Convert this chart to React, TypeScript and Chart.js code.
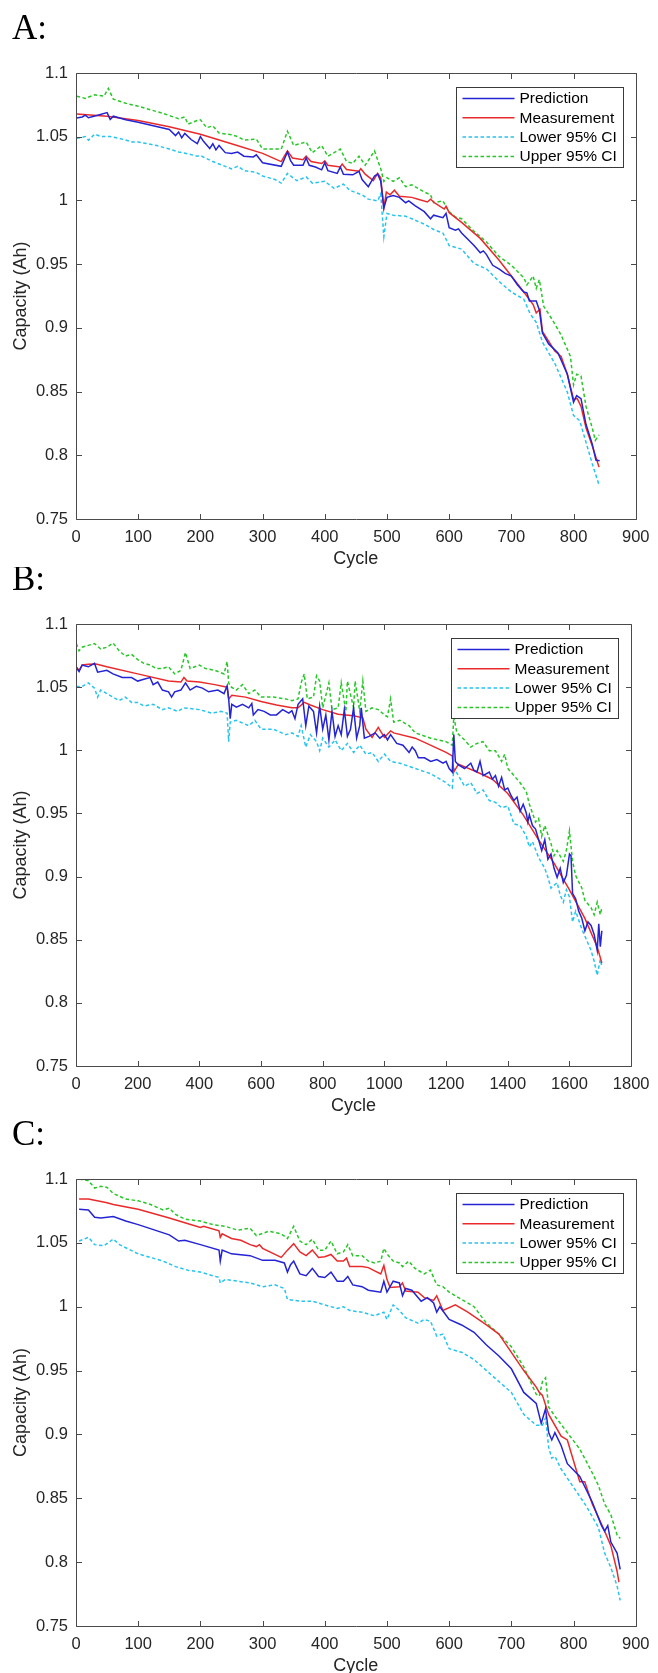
import React, { useEffect, useRef } from 'react';
import { Chart, registerables } from 'chart.js';

Chart.register(...registerables);

// ---------- tick labels ----------
const Y_TICKS = [0.75, 0.8, 0.85, 0.9, 0.95, 1, 1.05, 1.1];
const X_TICKS_A = [0, 100, 200, 300, 400, 500, 600, 700, 800, 900];
const X_TICKS_B = [0, 200, 400, 600, 800, 1000, 1200, 1400, 1600, 1800];
const X_TICKS_C = [0, 100, 200, 300, 400, 500, 600, 700, 800, 900];

const SERIES_LABELS = ['Prediction', 'Measurement', 'Lower 95% CI', 'Upper 95% CI'];

// ---------- Panel A: [cycle, capacity] ----------
const A_PRED: [number, number][] = [
  [1, 1.0647], [10, 1.0655], [15, 1.0669], [20, 1.0649], [35, 1.0669], [50, 1.0689], [55, 1.0635], [60, 1.0661],
  [80, 1.0633], [100, 1.0613], [150, 1.0557], [160, 1.0509], [165, 1.0537], [170, 1.0492], [175, 1.0526],
  [185, 1.0478], [195, 1.0445], [200, 1.0501], [205, 1.0464], [215, 1.0408], [220, 1.0445], [225, 1.0397],
  [230, 1.0431], [240, 1.0375], [250, 1.0369], [260, 1.038], [270, 1.0347], [285, 1.0341], [290, 1.0358],
  [300, 1.0296], [330, 1.0268], [335, 1.0324], [340, 1.038], [345, 1.0313], [350, 1.0276], [365, 1.0276],
  [370, 1.0333], [375, 1.0276], [385, 1.0262], [395, 1.024], [400, 1.0296], [405, 1.0234], [420, 1.0212],
  [425, 1.0262], [430, 1.0206], [445, 1.0201], [455, 1.0229], [460, 1.0164], [470, 1.0108], [480, 1.0192],
  [485, 1.0206], [490, 1.015], [495, 0.994], [500, 1.0024], [510, 1.0038], [520, 1.0024], [530, 0.9982],
  [535, 0.9996], [545, 0.996], [560, 0.9912], [570, 0.9856], [575, 0.9884], [590, 0.9864], [595, 0.9898],
  [600, 0.9786], [610, 0.9766], [615, 0.9777], [620, 0.9744], [640, 0.9646], [650, 0.959], [655, 0.9604],
  [660, 0.9575], [670, 0.9491], [680, 0.9463], [690, 0.9427], [700, 0.9407], [710, 0.9337], [720, 0.9281],
  [725, 0.9275], [729, 0.9211], [740, 0.9211], [745, 0.9141], [750, 0.8959], [760, 0.8874], [775, 0.8804],
  [790, 0.8636], [800, 0.8417], [805, 0.8468], [812, 0.8445], [820, 0.8243], [830, 0.8089], [836, 0.7963],
  [842, 0.7957],
];
const A_MEAS: [number, number][] = [
  [1, 1.0678], [50, 1.0661], [100, 1.0627], [150, 1.0579], [200, 1.052], [250, 1.0445], [300, 1.0369],
  [330, 1.0305], [335, 1.0347], [340, 1.0389], [348, 1.0333], [365, 1.0319], [370, 1.0347], [378, 1.0305],
  [395, 1.029], [400, 1.031], [405, 1.0276], [425, 1.0262], [428, 1.0285], [435, 1.0243], [455, 1.0229],
  [458, 1.0248], [465, 1.0206], [478, 1.0156], [485, 1.0212], [490, 1.0178], [495, 0.994], [499, 1.0066],
  [505, 1.0044], [512, 1.008], [520, 1.0033], [540, 1.0024], [550, 1.001], [565, 0.9988], [570, 1.001],
  [578, 0.9976], [592, 0.9932], [595, 0.9954], [600, 0.9904], [620, 0.9828], [650, 0.9702], [680, 0.9533],
  [700, 0.9407], [720, 0.9281], [735, 0.9183], [740, 0.9118], [746, 0.9146], [750, 0.8972], [770, 0.8818],
  [780, 0.8776], [790, 0.8636], [800, 0.844], [806, 0.8445], [812, 0.8384], [820, 0.8215], [830, 0.8075],
  [841, 0.7907],
];
const A_LOW: [number, number][] = [
  [1, 1.0487], [15, 1.0501], [20, 1.0473], [30, 1.052], [40, 1.0501], [55, 1.0501], [70, 1.0487], [90, 1.0459],
  [100, 1.0459], [115, 1.0445], [130, 1.0431], [150, 1.0403], [165, 1.038], [180, 1.0366], [195, 1.0347],
  [200, 1.0352], [220, 1.0305], [250, 1.0248], [260, 1.0268], [270, 1.0234], [290, 1.022], [300, 1.0192],
  [320, 1.0164], [330, 1.0136], [340, 1.0212], [345, 1.0192], [355, 1.0156], [370, 1.0184], [380, 1.0136],
  [400, 1.015], [415, 1.0094], [430, 1.0128], [440, 1.008], [455, 1.0052], [460, 1.0044], [470, 1.001],
  [485, 0.9996], [490, 1.0052], [495, 0.9716], [500, 0.9898], [510, 0.9884], [530, 0.9876], [540, 0.9856],
  [560, 0.9814], [575, 0.9772], [590, 0.9744], [600, 0.9646], [620, 0.9618], [640, 0.9505], [660, 0.9463],
  [680, 0.9365], [700, 0.9281], [720, 0.9225], [730, 0.9113], [740, 0.9043], [750, 0.8888], [770, 0.872],
  [790, 0.8496], [800, 0.8313], [810, 0.8271], [820, 0.8103], [830, 0.7935], [841, 0.7767],
];
const A_UP: [number, number][] = [
  [1, 1.0818], [15, 1.0801], [30, 1.0829], [45, 1.0818], [52, 1.0879], [60, 1.0795], [80, 1.0762], [100, 1.0739],
  [120, 1.0711], [140, 1.0683], [165, 1.0641], [175, 1.0655], [180, 1.0599], [195, 1.0627], [200, 1.0633],
  [210, 1.0571], [220, 1.0585], [230, 1.0529], [250, 1.0515], [260, 1.0501], [270, 1.0473], [290, 1.0481],
  [300, 1.0403], [330, 1.0403], [340, 1.0543], [350, 1.0431], [370, 1.0459], [380, 1.0375], [395, 1.0431],
  [405, 1.0347], [425, 1.0403], [435, 1.0305], [445, 1.0291], [455, 1.0347], [465, 1.0276], [480, 1.0389],
  [490, 1.0248], [495, 1.015], [500, 1.0178], [510, 1.015], [520, 1.0178], [530, 1.0108], [540, 1.0122],
  [560, 1.0066], [570, 1.0044], [575, 0.9982], [590, 0.9996], [600, 0.9912], [610, 0.987], [620, 0.9856],
  [640, 0.9758], [660, 0.9674], [680, 0.9561], [700, 0.9491], [720, 0.9393], [725, 0.9337], [735, 0.9407],
  [740, 0.9309], [745, 0.9379], [752, 0.9169], [765, 0.9071], [780, 0.8944], [795, 0.8776], [800, 0.8552],
  [805, 0.8636], [812, 0.8622], [820, 0.8384], [830, 0.8215], [835, 0.8117], [841, 0.8159],
];

// ---------- Panel B ----------
const B_PRED: [number, number][] = [
  [1, 1.0653], [10, 1.0624], [20, 1.0675], [40, 1.0661], [60, 1.0689], [70, 1.0619], [100, 1.0633], [120, 1.0605],
  [150, 1.0576], [180, 1.0576], [200, 1.0548], [220, 1.0562], [240, 1.0576], [250, 1.052], [265, 1.054],
  [280, 1.0477], [300, 1.0463], [310, 1.0421], [320, 1.0463], [340, 1.0477], [355, 1.0534], [370, 1.0477],
  [390, 1.0506], [410, 1.0492], [430, 1.0463], [460, 1.0477], [480, 1.0449], [490, 1.0511], [495, 1.0407],
  [500, 1.0251], [505, 1.0364], [520, 1.0342], [540, 1.0364], [560, 1.0336], [570, 1.037], [575, 1.028],
  [590, 1.0322], [610, 1.0308], [630, 1.028], [650, 1.028], [670, 1.0322], [690, 1.0294], [700, 1.0314],
  [710, 1.0251], [720, 1.0364], [735, 1.0407], [745, 1.0195], [755, 1.035], [770, 1.0308], [780, 1.0138],
  [790, 1.035], [800, 1.0167], [810, 1.028], [820, 1.0082], [830, 1.0308], [840, 1.011], [850, 1.0195],
  [860, 1.0124], [870, 1.0322], [880, 1.011], [890, 1.0167], [900, 1.0336], [910, 1.0096], [920, 1.0195],
  [925, 1.0336], [935, 1.0096], [950, 1.011], [970, 1.0138], [985, 1.0096], [1000, 1.0124], [1010, 1.0082],
  [1020, 1.0124], [1040, 1.0054], [1060, 1.004], [1080, 0.9983], [1090, 1.0025], [1100, 0.9997], [1110, 0.9941],
  [1130, 0.9941], [1150, 0.9912], [1170, 0.9927], [1190, 0.9898], [1200, 0.9912], [1210, 0.9856], [1220, 0.9828],
  [1225, 1.0124], [1230, 0.9912], [1240, 0.9884], [1260, 0.9856], [1280, 0.9898], [1290, 0.9842], [1300, 0.9828],
  [1310, 0.9912], [1320, 0.98], [1340, 0.9828], [1350, 0.9771], [1360, 0.98], [1370, 0.9715], [1380, 0.9785],
  [1390, 0.9686], [1400, 0.9701], [1410, 0.9644], [1420, 0.9602], [1430, 0.963], [1440, 0.9517], [1450, 0.9573],
  [1460, 0.9503], [1465, 0.9432], [1470, 0.9489], [1480, 0.9404], [1490, 0.9376], [1500, 0.9291], [1510, 0.9206],
  [1520, 0.9291], [1530, 0.9136], [1540, 0.9178], [1550, 0.9065], [1560, 0.8994], [1570, 0.9065], [1580, 0.8952],
  [1590, 0.9008], [1600, 0.9178], [1605, 0.9164], [1610, 0.8867], [1620, 0.8825], [1630, 0.8726], [1640, 0.867],
  [1650, 0.8571], [1660, 0.8641], [1670, 0.8613], [1680, 0.8542], [1690, 0.8415], [1695, 0.8627], [1700, 0.8444],
  [1705, 0.8571],
];
const B_MEAS: [number, number][] = [
  [1, 1.0661], [10, 1.0633], [20, 1.0675], [40, 1.0681], [65, 1.0684], [100, 1.0661], [200, 1.0605], [300, 1.0548],
  [340, 1.054], [350, 1.0576], [360, 1.0548], [400, 1.054], [450, 1.052], [490, 1.05], [495, 1.0407], [505, 1.0435],
  [550, 1.0421], [600, 1.0387], [650, 1.0359], [700, 1.0336], [720, 1.0336], [740, 1.0379], [760, 1.0359],
  [800, 1.0322], [850, 1.0285], [900, 1.0274], [930, 1.0257], [940, 1.0167], [960, 1.0102], [980, 1.0181],
  [1000, 1.0102], [1020, 1.0153], [1030, 1.0138], [1100, 1.0096], [1200, 0.9983], [1220, 0.9955], [1225, 0.9828],
  [1240, 0.989], [1300, 0.9828], [1350, 0.9771], [1400, 0.9658], [1450, 0.9489], [1500, 0.9291], [1550, 0.9107],
  [1600, 0.8895], [1650, 0.8669], [1690, 0.8443], [1705, 0.8316],
];
const B_LOW: [number, number][] = [
  [1, 1.0506], [20, 1.0506], [40, 1.0534], [60, 1.0492], [70, 1.0421], [80, 1.0477], [100, 1.0449], [120, 1.0421],
  [140, 1.0393], [160, 1.0421], [180, 1.0379], [200, 1.0379], [220, 1.035], [250, 1.0364], [280, 1.0322],
  [300, 1.0336], [330, 1.0308], [350, 1.0336], [400, 1.0322], [440, 1.0294], [470, 1.0308], [490, 1.0294],
  [495, 1.0068], [500, 1.0223], [520, 1.0237], [560, 1.0195], [580, 1.0237], [600, 1.0167], [640, 1.0167],
  [680, 1.0124], [700, 1.0138], [720, 1.011], [730, 1.0195], [745, 1.0025], [760, 1.0124], [780, 1.0068],
  [790, 0.9997], [800, 1.0096], [820, 1.0025], [840, 1.0082], [860, 0.9997], [880, 1.0054], [900, 0.9983],
  [920, 1.004], [940, 0.9969], [960, 0.9983], [980, 0.9912], [1000, 0.9969], [1020, 0.9912], [1050, 0.9898],
  [1100, 0.9856], [1150, 0.9814], [1200, 0.9743], [1220, 0.9701], [1225, 0.9856], [1240, 0.98], [1260, 0.9715],
  [1280, 0.9743], [1300, 0.9658], [1320, 0.9686], [1340, 0.9602], [1360, 0.9588], [1380, 0.9545], [1400, 0.9559],
  [1420, 0.9418], [1440, 0.9404], [1460, 0.9319], [1470, 0.9234], [1480, 0.9277], [1500, 0.915], [1520, 0.9065],
  [1530, 0.8994], [1540, 0.8909], [1560, 0.8952], [1570, 0.8853], [1580, 0.8797], [1590, 0.8895], [1600, 0.8839],
  [1610, 0.8641], [1620, 0.8726], [1640, 0.8585], [1660, 0.8472], [1670, 0.8415], [1680, 0.8331], [1690, 0.8218],
  [1700, 0.8345], [1705, 0.8288],
];
const B_UP: [number, number][] = [
  [1, 1.0845], [10, 1.0788], [20, 1.0816], [40, 1.0831], [60, 1.0845], [80, 1.0802], [100, 1.0816], [120, 1.085],
  [140, 1.0788], [160, 1.0746], [180, 1.076], [200, 1.0718], [220, 1.0689], [240, 1.0675], [260, 1.0647],
  [280, 1.0647], [300, 1.0661], [320, 1.0605], [340, 1.0633], [355, 1.0774], [370, 1.0647], [400, 1.0675],
  [420, 1.0647], [450, 1.0633], [480, 1.0605], [490, 1.0703], [495, 1.0534], [500, 1.0506], [520, 1.0477],
  [540, 1.052], [560, 1.0449], [580, 1.0477], [600, 1.0421], [640, 1.0421], [680, 1.0407], [700, 1.0393],
  [720, 1.0407], [730, 1.0534], [740, 1.0605], [750, 1.0407], [770, 1.0421], [780, 1.059], [790, 1.0548],
  [800, 1.0336], [820, 1.0534], [830, 1.0322], [850, 1.0336], [860, 1.0534], [875, 1.0308], [880, 1.0548],
  [900, 1.0336], [905, 1.0548], [920, 1.0308], [930, 1.0548], [940, 1.0308], [960, 1.0336], [980, 1.0322],
  [1000, 1.028], [1010, 1.0266], [1020, 1.0407], [1030, 1.0223], [1050, 1.0237], [1080, 1.0195], [1100, 1.0138],
  [1150, 1.0096], [1200, 1.0068], [1220, 1.004], [1225, 1.0266], [1235, 1.0138], [1260, 1.0082], [1280, 1.0025],
  [1300, 1.0054], [1320, 1.0068], [1340, 0.9997], [1360, 0.9997], [1380, 0.9912], [1390, 0.9969], [1400, 0.9856],
  [1420, 0.98], [1440, 0.9743], [1460, 0.9672], [1470, 0.9573], [1490, 0.9432], [1500, 0.946], [1510, 0.9319],
  [1520, 0.9404], [1540, 0.9263], [1550, 0.9164], [1560, 0.9206], [1580, 0.9121], [1590, 0.9206], [1600, 0.9362],
  [1610, 0.9121], [1620, 0.9008], [1640, 0.891], [1650, 0.8811], [1670, 0.8754], [1680, 0.8698], [1690, 0.8797],
  [1700, 0.8698], [1705, 0.8754],
];

// ---------- Panel C ----------
const C_PRED: [number, number][] = [
  [5, 1.0763], [20, 1.0757], [30, 1.07], [40, 1.0694], [60, 1.0706], [80, 1.0671], [100, 1.0643], [150, 1.0563],
  [165, 1.0514], [175, 1.052], [200, 1.0486], [230, 1.0443], [232, 1.0357], [235, 1.0443], [250, 1.0414],
  [280, 1.04], [300, 1.0363], [320, 1.0363], [335, 1.0343], [340, 1.0271], [345, 1.0329], [350, 1.0357],
  [360, 1.0257], [370, 1.0243], [380, 1.03], [390, 1.0237], [400, 1.0229], [410, 1.0271], [420, 1.02],
  [430, 1.02], [437, 1.0237], [445, 1.0171], [460, 1.0157], [470, 1.0129], [490, 1.0114], [495, 1.02],
  [500, 1.0114], [510, 1.02], [520, 1.0186], [525, 1.0086], [530, 1.0143], [540, 1.0129], [555, 1.0043],
  [565, 1.0071], [575, 1.0029], [580, 0.9957], [585, 1.0], [600, 0.99], [620, 0.9857], [640, 0.98], [660, 0.97],
  [680, 0.9614], [700, 0.9514], [720, 0.9329], [740, 0.9243], [748, 0.9086], [755, 0.92], [760, 0.9014],
  [765, 0.8957], [770, 0.9014], [780, 0.8914], [790, 0.8771], [810, 0.8671], [830, 0.8471], [845, 0.8286],
  [850, 0.8243], [855, 0.8286], [860, 0.8157], [870, 0.8071], [875, 0.7943],
];
const C_MEAS: [number, number][] = [
  [5, 1.0843], [20, 1.0843], [50, 1.0814], [60, 1.08], [100, 1.0763], [150, 1.0694], [175, 1.0657], [200, 1.062],
  [205, 1.0629], [230, 1.0594], [232, 1.0543], [235, 1.0571], [250, 1.0534], [265, 1.052], [280, 1.0486],
  [290, 1.0471], [295, 1.0486], [300, 1.0457], [330, 1.0386], [340, 1.0443], [350, 1.0494], [360, 1.0429],
  [370, 1.04], [380, 1.0443], [390, 1.0386], [400, 1.0391], [410, 1.0409], [420, 1.0357], [430, 1.0357],
  [435, 1.038], [440, 1.0314], [460, 1.0314], [470, 1.0306], [490, 1.0257], [495, 1.0323], [500, 1.0214],
  [505, 1.0151], [520, 1.0157], [525, 1.0186], [530, 1.0123], [550, 1.0114], [560, 1.0071], [575, 1.0049],
  [580, 1.0086], [590, 0.9971], [610, 1.0014], [630, 0.9957], [660, 0.9857], [680, 0.9786], [700, 0.9643],
  [720, 0.95], [740, 0.9371], [745, 0.9329], [750, 0.9306], [760, 0.9157], [780, 0.8986], [790, 0.8957],
  [810, 0.8629], [818, 0.8629], [830, 0.8457], [850, 0.8243], [860, 0.8129], [870, 0.7929], [873, 0.7843],
];
const C_LOW: [number, number][] = [
  [5, 1.0514], [20, 1.0543], [30, 1.0486], [45, 1.0477], [60, 1.0529], [70, 1.0486], [100, 1.0414], [140, 1.0357],
  [160, 1.0314], [180, 1.0286], [200, 1.0271], [220, 1.0243], [230, 1.0229], [232, 1.0186], [240, 1.0214],
  [260, 1.02], [280, 1.0186], [300, 1.0157], [320, 1.0171], [335, 1.0143], [340, 1.0057], [360, 1.0043],
  [380, 1.0043], [400, 1.0014], [420, 0.9986], [430, 1.0], [440, 0.9971], [460, 0.9957], [480, 0.9929],
  [495, 0.9957], [500, 0.99], [510, 1.0014], [520, 0.9971], [530, 0.9914], [550, 0.9871], [560, 0.99],
  [570, 0.9886], [580, 0.9771], [590, 0.9786], [600, 0.9671], [620, 0.9643], [640, 0.9586], [660, 0.95],
  [680, 0.9414], [700, 0.9329], [720, 0.9157], [740, 0.9071], [750, 0.9071], [755, 0.9129], [760, 0.89],
  [765, 0.8814], [770, 0.8829], [780, 0.8729], [800, 0.8586], [820, 0.8443], [840, 0.8271], [850, 0.8071],
  [860, 0.7957], [870, 0.7814], [875, 0.77],
];
const C_UP: [number, number][] = [
  [5, 1.1], [20, 1.0986], [30, 1.0929], [40, 1.0943], [50, 1.0934], [60, 1.0886], [80, 1.0843], [100, 1.0829],
  [120, 1.08], [140, 1.0757], [150, 1.0771], [160, 1.0723], [175, 1.0686], [200, 1.0671], [220, 1.0643],
  [240, 1.0629], [260, 1.06], [280, 1.0614], [290, 1.0557], [310, 1.0591], [330, 1.0571], [340, 1.0534],
  [350, 1.0629], [360, 1.0514], [370, 1.0486], [380, 1.0529], [390, 1.0443], [400, 1.0443], [410, 1.0514],
  [420, 1.0414], [430, 1.0429], [437, 1.0486], [445, 1.04], [460, 1.04], [470, 1.0357], [480, 1.0343],
  [490, 1.0357], [495, 1.0457], [500, 1.0414], [510, 1.0357], [520, 1.0343], [525, 1.0314], [535, 1.0357],
  [545, 1.03], [560, 1.0257], [570, 1.0286], [580, 1.0171], [590, 1.0157], [600, 1.0114], [620, 1.0057],
  [640, 1.0], [660, 0.9871], [680, 0.9786], [700, 0.9686], [720, 0.9529], [740, 0.9314], [745, 0.93],
  [750, 0.9414], [755, 0.9443], [760, 0.9214], [770, 0.9143], [790, 0.9014], [810, 0.8886], [830, 0.87],
  [840, 0.86], [850, 0.8457], [860, 0.8371], [870, 0.8214], [875, 0.8186],
];

// ---------- styling ----------
const COLORS = ['#2424d4', '#ea2a2a', '#26c4f0', '#26c826'];
const DASHES = [[], [], [3.5, 2.5], [3.5, 2.5]];
const AXIS_COLOR = '#4a4a4a';
const TEXT_COLOR = '#262626';
const SANS = '"Liberation Sans", Arial, sans-serif';
const TICK_LEN = 5.5;

type Panel = {
  label: string;
  top: number;
  height: number;
  areaTop: number;
  areaRight: number;
  labelBaseline: number;
  xMax: number;
  xTicks: number[];
  series: [number, number][][];
};

const PANELS: Panel[] = [
  { label: 'A:', top: 0, height: 570, areaTop: 73, areaRight: 640, labelBaseline: 39, xMax: 900, xTicks: X_TICKS_A, series: [A_PRED, A_MEAS, A_LOW, A_UP] },
  { label: 'B:', top: 567, height: 550, areaTop: 57, areaRight: 637, labelBaseline: 23, xMax: 1800, xTicks: X_TICKS_B, series: [B_PRED, B_MEAS, B_LOW, B_UP] },
  { label: 'C:', top: 1117, height: 560, areaTop: 62, areaRight: 640, labelBaseline: 28, xMax: 900, xTicks: X_TICKS_C, series: [C_PRED, C_MEAS, C_LOW, C_UP] },
];

const X_AXIS_HEIGHT = 51;
const Y_AXIS_WIDTH = 76;

const framePlugin = {
  id: 'matlabFrame',
  afterDraw(chart: any, _args: any, opts: any) {
    const { ctx, chartArea: ca } = chart;
    const xs = chart.scales.x;
    const ys = chart.scales.y;
    ctx.save();
    const L = Math.round(ca.left) + 0.5;
    const R = Math.round(ca.right) + 0.5;
    const T = Math.round(ca.top) + 0.5;
    const B = Math.round(ca.bottom) + 0.5;
    ctx.strokeStyle = AXIS_COLOR;
    ctx.lineWidth = 1;
    ctx.setLineDash([]);
    ctx.beginPath();
    ctx.rect(L, T, R - L, B - T);
    xs.ticks.forEach((t: any) => {
      const px = Math.round(xs.getPixelForValue(t.value)) + 0.5;
      ctx.moveTo(px, B); ctx.lineTo(px, B - TICK_LEN);
      ctx.moveTo(px, T); ctx.lineTo(px, T + TICK_LEN);
    });
    ys.ticks.forEach((t: any) => {
      const py = Math.round(ys.getPixelForValue(t.value)) + 0.5;
      ctx.moveTo(L, py); ctx.lineTo(L + TICK_LEN, py);
      ctx.moveTo(R, py); ctx.lineTo(R - TICK_LEN, py);
    });
    ctx.stroke();

    // legend box (top-right inside plot)
    const bw = 167, bh = 80;
    const bx = Math.round(ca.right - 13 - bw) + 0.5;
    const by = Math.round(ca.top + 14) + 0.5;
    ctx.fillStyle = '#ffffff';
    ctx.fillRect(bx, by, bw, bh);
    ctx.strokeStyle = '#3a3a3a';
    ctx.strokeRect(bx, by, bw, bh);
    ctx.font = `15.5px ${SANS}`;
    ctx.textBaseline = 'middle';
    ctx.textAlign = 'left';
    chart.data.datasets.forEach((ds: any, i: number) => {
      const cy = by + 11 + i * 19.3;
      ctx.beginPath();
      ctx.strokeStyle = ds.borderColor;
      ctx.lineWidth = 1.5;
      ctx.setLineDash(ds.borderDash || []);
      ctx.moveTo(bx + 6, cy);
      ctx.lineTo(bx + 58, cy);
      ctx.stroke();
      ctx.setLineDash([]);
      ctx.fillStyle = '#000000';
      ctx.fillText(ds.label, bx + 63, cy + 0.5);
    });

    // panel letter
    ctx.font = `35px "Liberation Serif", "Times New Roman", serif`;
    ctx.fillStyle = '#000000';
    ctx.textBaseline = 'alphabetic';
    ctx.textAlign = 'left';
    ctx.fillText(opts.label, 12, opts.labelBaseline);
    ctx.restore();
  },
};

function makeConfig(p: Panel): any {
  return {
    type: 'line',
    data: {
      datasets: p.series.map((s, i) => ({
        label: SERIES_LABELS[i],
        data: s.map(([x, y]) => ({ x, y })),
        borderColor: COLORS[i],
        backgroundColor: COLORS[i],
        borderWidth: 1.5,
        borderDash: DASHES[i],
        pointRadius: 0,
        tension: 0,
        fill: false,
      })),
    },
    options: {
      responsive: false,
      animation: false,
      devicePixelRatio: 1,
      events: [],
      layout: { padding: { top: p.areaTop, right: 658 - p.areaRight, bottom: 0, left: 0 } },
      plugins: {
        legend: { display: false },
        tooltip: { enabled: false },
        matlabFrame: { label: p.label, labelBaseline: p.labelBaseline },
      },
      scales: {
        x: {
          type: 'linear',
          min: 0,
          max: p.xMax,
          afterBuildTicks: (s: any) => { s.ticks = p.xTicks.map((v) => ({ value: v })); },
          afterFit: (s: any) => { s.height = X_AXIS_HEIGHT; },
          grid: { display: false, drawTicks: false, tickLength: 0 },
          border: { display: false },
          ticks: {
            autoSkip: false,
            maxRotation: 0,
            padding: 8.5,
            color: TEXT_COLOR,
            font: { family: SANS, size: 16.5 },
            callback: (v: any) => String(v),
          },
          title: {
            display: true,
            text: 'Cycle',
            color: TEXT_COLOR,
            font: { family: SANS, size: 18 },
            padding: { top: 0, bottom: 0 },
          },
        },
        y: {
          type: 'linear',
          min: 0.75,
          max: 1.1,
          afterBuildTicks: (s: any) => { s.ticks = Y_TICKS.map((v) => ({ value: v })); },
          afterFit: (s: any) => { s.width = Y_AXIS_WIDTH; },
          grid: { display: false, drawTicks: false, tickLength: 0 },
          border: { display: false },
          ticks: {
            autoSkip: false,
            padding: 8,
            color: TEXT_COLOR,
            font: { family: SANS, size: 16.5 },
            callback: (v: any) => String(parseFloat(Number(v).toFixed(2))),
          },
          title: {
            display: true,
            text: 'Capacity (Ah)',
            color: TEXT_COLOR,
            font: { family: SANS, size: 18 },
            padding: { top: 10, bottom: 0 },
          },
        },
      },
    },
    plugins: [framePlugin],
  };
}

function PanelChart({ panel }: { panel: Panel }) {
  const ref = useRef<HTMLCanvasElement | null>(null);
  useEffect(() => {
    if (!ref.current) return;
    const chart = new Chart(ref.current, makeConfig(panel));
    return () => chart.destroy();
  }, [panel]);
  return (
    <canvas
      ref={ref}
      width={658}
      height={panel.height}
      style={{ position: 'absolute', left: 0, top: panel.top, width: 658, height: panel.height }}
    />
  );
}

export default function App() {
  useEffect(() => {
    document.body.style.margin = '0';
    document.body.style.background = '#ffffff';
  }, []);
  return (
    <div style={{ position: 'relative', width: 658, height: 1673, overflow: 'hidden', background: '#ffffff' }}>
      {PANELS.map((p) => (
        <PanelChart key={p.label} panel={p} />
      ))}
    </div>
  );
}
